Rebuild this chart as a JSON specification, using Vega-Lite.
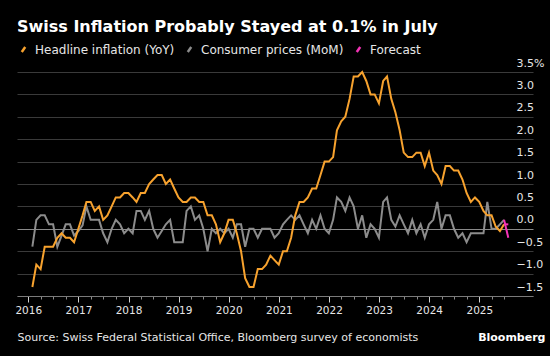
{
"$schema":"https://vega.github.io/schema/vega-lite/v6.json",
"autosize":{"type":"none"},
"width":516,"height":224,
"padding":{"left":17,"top":72,"right":17,"bottom":60},
"background":"#000000",
"config":{"view":{"stroke":null},"font":"DejaVu Sans"},
"title":{"text":"Swiss Inflation Probably Stayed at 0.1% in July","anchor":"start","frame":"group","font":"DejaVu Sans","fontSize":16,"fontWeight":"bold","color":"#ffffff","offset":8},
"data":{"values":[
{"d":"2016-01-31","k":"yoy","g":"yoy","v":-1.3},{"d":"2016-02-29","k":"yoy","g":"yoy","v":-0.8},{"d":"2016-03-31","k":"yoy","g":"yoy","v":-0.9},{"d":"2016-04-30","k":"yoy","g":"yoy","v":-0.4},{"d":"2016-05-31","k":"yoy","g":"yoy","v":-0.4},{"d":"2016-06-30","k":"yoy","g":"yoy","v":-0.4},{"d":"2016-07-31","k":"yoy","g":"yoy","v":-0.2},{"d":"2016-08-31","k":"yoy","g":"yoy","v":-0.1},{"d":"2016-09-30","k":"yoy","g":"yoy","v":-0.2},{"d":"2016-10-31","k":"yoy","g":"yoy","v":-0.2},{"d":"2016-11-30","k":"yoy","g":"yoy","v":-0.3},{"d":"2016-12-31","k":"yoy","g":"yoy","v":0.0},
{"d":"2017-01-31","k":"yoy","g":"yoy","v":0.3},{"d":"2017-02-28","k":"yoy","g":"yoy","v":0.6},{"d":"2017-03-31","k":"yoy","g":"yoy","v":0.6},{"d":"2017-04-30","k":"yoy","g":"yoy","v":0.4},{"d":"2017-05-31","k":"yoy","g":"yoy","v":0.5},{"d":"2017-06-30","k":"yoy","g":"yoy","v":0.2},{"d":"2017-07-31","k":"yoy","g":"yoy","v":0.3},{"d":"2017-08-31","k":"yoy","g":"yoy","v":0.5},{"d":"2017-09-30","k":"yoy","g":"yoy","v":0.7},{"d":"2017-10-31","k":"yoy","g":"yoy","v":0.7},{"d":"2017-11-30","k":"yoy","g":"yoy","v":0.8},{"d":"2017-12-31","k":"yoy","g":"yoy","v":0.8},
{"d":"2018-01-31","k":"yoy","g":"yoy","v":0.7},{"d":"2018-02-28","k":"yoy","g":"yoy","v":0.6},{"d":"2018-03-31","k":"yoy","g":"yoy","v":0.8},{"d":"2018-04-30","k":"yoy","g":"yoy","v":0.8},{"d":"2018-05-31","k":"yoy","g":"yoy","v":1.0},{"d":"2018-06-30","k":"yoy","g":"yoy","v":1.1},{"d":"2018-07-31","k":"yoy","g":"yoy","v":1.2},{"d":"2018-08-31","k":"yoy","g":"yoy","v":1.2},{"d":"2018-09-30","k":"yoy","g":"yoy","v":1.0},{"d":"2018-10-31","k":"yoy","g":"yoy","v":1.1},{"d":"2018-11-30","k":"yoy","g":"yoy","v":0.9},{"d":"2018-12-31","k":"yoy","g":"yoy","v":0.7},
{"d":"2019-01-31","k":"yoy","g":"yoy","v":0.6},{"d":"2019-02-28","k":"yoy","g":"yoy","v":0.6},{"d":"2019-03-31","k":"yoy","g":"yoy","v":0.7},{"d":"2019-04-30","k":"yoy","g":"yoy","v":0.7},{"d":"2019-05-31","k":"yoy","g":"yoy","v":0.6},{"d":"2019-06-30","k":"yoy","g":"yoy","v":0.6},{"d":"2019-07-31","k":"yoy","g":"yoy","v":0.3},{"d":"2019-08-31","k":"yoy","g":"yoy","v":0.3},{"d":"2019-09-30","k":"yoy","g":"yoy","v":0.1},{"d":"2019-10-31","k":"yoy","g":"yoy","v":-0.3},{"d":"2019-11-30","k":"yoy","g":"yoy","v":-0.1},{"d":"2019-12-31","k":"yoy","g":"yoy","v":0.2},
{"d":"2020-01-31","k":"yoy","g":"yoy","v":0.2},{"d":"2020-02-29","k":"yoy","g":"yoy","v":-0.1},{"d":"2020-03-31","k":"yoy","g":"yoy","v":-0.5},{"d":"2020-04-30","k":"yoy","g":"yoy","v":-1.1},{"d":"2020-05-31","k":"yoy","g":"yoy","v":-1.3},{"d":"2020-06-30","k":"yoy","g":"yoy","v":-1.3},{"d":"2020-07-31","k":"yoy","g":"yoy","v":-0.9},{"d":"2020-08-31","k":"yoy","g":"yoy","v":-0.9},{"d":"2020-09-30","k":"yoy","g":"yoy","v":-0.8},{"d":"2020-10-31","k":"yoy","g":"yoy","v":-0.6},{"d":"2020-11-30","k":"yoy","g":"yoy","v":-0.7},{"d":"2020-12-31","k":"yoy","g":"yoy","v":-0.8},
{"d":"2021-01-31","k":"yoy","g":"yoy","v":-0.5},{"d":"2021-02-28","k":"yoy","g":"yoy","v":-0.5},{"d":"2021-03-31","k":"yoy","g":"yoy","v":-0.2},{"d":"2021-04-30","k":"yoy","g":"yoy","v":0.3},{"d":"2021-05-31","k":"yoy","g":"yoy","v":0.6},{"d":"2021-06-30","k":"yoy","g":"yoy","v":0.6},{"d":"2021-07-31","k":"yoy","g":"yoy","v":0.7},{"d":"2021-08-31","k":"yoy","g":"yoy","v":0.9},{"d":"2021-09-30","k":"yoy","g":"yoy","v":0.9},{"d":"2021-10-31","k":"yoy","g":"yoy","v":1.2},{"d":"2021-11-30","k":"yoy","g":"yoy","v":1.5},{"d":"2021-12-31","k":"yoy","g":"yoy","v":1.5},
{"d":"2022-01-31","k":"yoy","g":"yoy","v":1.6},{"d":"2022-02-28","k":"yoy","g":"yoy","v":2.2},{"d":"2022-03-31","k":"yoy","g":"yoy","v":2.4},{"d":"2022-04-30","k":"yoy","g":"yoy","v":2.5},{"d":"2022-05-31","k":"yoy","g":"yoy","v":2.9},{"d":"2022-06-30","k":"yoy","g":"yoy","v":3.4},{"d":"2022-07-31","k":"yoy","g":"yoy","v":3.4},{"d":"2022-08-31","k":"yoy","g":"yoy","v":3.5},{"d":"2022-09-30","k":"yoy","g":"yoy","v":3.3},{"d":"2022-10-31","k":"yoy","g":"yoy","v":3.0},{"d":"2022-11-30","k":"yoy","g":"yoy","v":3.0},{"d":"2022-12-31","k":"yoy","g":"yoy","v":2.8},
{"d":"2023-01-31","k":"yoy","g":"yoy","v":3.3},{"d":"2023-02-28","k":"yoy","g":"yoy","v":3.4},{"d":"2023-03-31","k":"yoy","g":"yoy","v":2.9},{"d":"2023-04-30","k":"yoy","g":"yoy","v":2.6},{"d":"2023-05-31","k":"yoy","g":"yoy","v":2.2},{"d":"2023-06-30","k":"yoy","g":"yoy","v":1.7},{"d":"2023-07-31","k":"yoy","g":"yoy","v":1.6},{"d":"2023-08-31","k":"yoy","g":"yoy","v":1.6},{"d":"2023-09-30","k":"yoy","g":"yoy","v":1.7},{"d":"2023-10-31","k":"yoy","g":"yoy","v":1.7},{"d":"2023-11-30","k":"yoy","g":"yoy","v":1.4},{"d":"2023-12-31","k":"yoy","g":"yoy","v":1.7},
{"d":"2024-01-31","k":"yoy","g":"yoy","v":1.3},{"d":"2024-02-29","k":"yoy","g":"yoy","v":1.2},{"d":"2024-03-31","k":"yoy","g":"yoy","v":1.0},{"d":"2024-04-30","k":"yoy","g":"yoy","v":1.4},{"d":"2024-05-31","k":"yoy","g":"yoy","v":1.4},{"d":"2024-06-30","k":"yoy","g":"yoy","v":1.3},{"d":"2024-07-31","k":"yoy","g":"yoy","v":1.3},{"d":"2024-08-31","k":"yoy","g":"yoy","v":1.1},{"d":"2024-09-30","k":"yoy","g":"yoy","v":0.8},{"d":"2024-10-31","k":"yoy","g":"yoy","v":0.6},{"d":"2024-11-30","k":"yoy","g":"yoy","v":0.7},{"d":"2024-12-31","k":"yoy","g":"yoy","v":0.6},
{"d":"2025-01-31","k":"yoy","g":"yoy","v":0.4},{"d":"2025-02-28","k":"yoy","g":"yoy","v":0.3},{"d":"2025-03-31","k":"yoy","g":"yoy","v":0.3},{"d":"2025-04-30","k":"yoy","g":"yoy","v":0.05},{"d":"2025-05-31","k":"yoy","g":"yoy","v":-0.05},{"d":"2025-06-30","k":"yoy","g":"yoy","v":0.1},
{"d":"2016-01-31","k":"mom","g":"mom","v":-0.4},{"d":"2016-02-29","k":"mom","g":"mom","v":0.2},{"d":"2016-03-31","k":"mom","g":"mom","v":0.3},{"d":"2016-04-30","k":"mom","g":"mom","v":0.3},{"d":"2016-05-31","k":"mom","g":"mom","v":0.1},{"d":"2016-06-30","k":"mom","g":"mom","v":0.1},{"d":"2016-07-31","k":"mom","g":"mom","v":-0.4},{"d":"2016-08-31","k":"mom","g":"mom","v":-0.15},{"d":"2016-09-30","k":"mom","g":"mom","v":0.1},{"d":"2016-10-31","k":"mom","g":"mom","v":0.1},{"d":"2016-11-30","k":"mom","g":"mom","v":-0.15},{"d":"2016-12-31","k":"mom","g":"mom","v":-0.05},
{"d":"2017-01-31","k":"mom","g":"mom","v":0.08},{"d":"2017-02-28","k":"mom","g":"mom","v":0.5},{"d":"2017-03-31","k":"mom","g":"mom","v":0.2},{"d":"2017-04-30","k":"mom","g":"mom","v":0.2},{"d":"2017-05-31","k":"mom","g":"mom","v":0.2},{"d":"2017-06-30","k":"mom","g":"mom","v":-0.1},{"d":"2017-07-31","k":"mom","g":"mom","v":-0.3},{"d":"2017-08-31","k":"mom","g":"mom","v":0.0},{"d":"2017-09-30","k":"mom","g":"mom","v":0.2},{"d":"2017-10-31","k":"mom","g":"mom","v":0.1},{"d":"2017-11-30","k":"mom","g":"mom","v":-0.1},{"d":"2017-12-31","k":"mom","g":"mom","v":0.0},
{"d":"2018-01-31","k":"mom","g":"mom","v":-0.1},{"d":"2018-02-28","k":"mom","g":"mom","v":0.4},{"d":"2018-03-31","k":"mom","g":"mom","v":0.4},{"d":"2018-04-30","k":"mom","g":"mom","v":0.2},{"d":"2018-05-31","k":"mom","g":"mom","v":0.4},{"d":"2018-06-30","k":"mom","g":"mom","v":0.0},{"d":"2018-07-31","k":"mom","g":"mom","v":-0.2},{"d":"2018-08-31","k":"mom","g":"mom","v":-0.05},{"d":"2018-09-30","k":"mom","g":"mom","v":0.1},{"d":"2018-10-31","k":"mom","g":"mom","v":0.2},{"d":"2018-11-30","k":"mom","g":"mom","v":-0.3},{"d":"2018-12-31","k":"mom","g":"mom","v":-0.3},
{"d":"2019-01-31","k":"mom","g":"mom","v":-0.3},{"d":"2019-02-28","k":"mom","g":"mom","v":0.4},{"d":"2019-03-31","k":"mom","g":"mom","v":0.5},{"d":"2019-04-30","k":"mom","g":"mom","v":0.2},{"d":"2019-05-31","k":"mom","g":"mom","v":0.3},{"d":"2019-06-30","k":"mom","g":"mom","v":0.0},{"d":"2019-07-31","k":"mom","g":"mom","v":-0.5},{"d":"2019-08-31","k":"mom","g":"mom","v":0.0},{"d":"2019-09-30","k":"mom","g":"mom","v":-0.1},{"d":"2019-10-31","k":"mom","g":"mom","v":0.0},{"d":"2019-11-30","k":"mom","g":"mom","v":-0.1},{"d":"2019-12-31","k":"mom","g":"mom","v":0.0},
{"d":"2020-01-31","k":"mom","g":"mom","v":-0.2},{"d":"2020-02-29","k":"mom","g":"mom","v":0.1},{"d":"2020-03-31","k":"mom","g":"mom","v":0.1},{"d":"2020-04-30","k":"mom","g":"mom","v":-0.4},{"d":"2020-05-31","k":"mom","g":"mom","v":0.0},{"d":"2020-06-30","k":"mom","g":"mom","v":0.0},{"d":"2020-07-31","k":"mom","g":"mom","v":-0.2},{"d":"2020-08-31","k":"mom","g":"mom","v":0.0},{"d":"2020-09-30","k":"mom","g":"mom","v":0.0},{"d":"2020-10-31","k":"mom","g":"mom","v":0.0},{"d":"2020-11-30","k":"mom","g":"mom","v":-0.2},{"d":"2020-12-31","k":"mom","g":"mom","v":-0.1},
{"d":"2021-01-31","k":"mom","g":"mom","v":0.1},{"d":"2021-02-28","k":"mom","g":"mom","v":0.2},{"d":"2021-03-31","k":"mom","g":"mom","v":0.3},{"d":"2021-04-30","k":"mom","g":"mom","v":0.2},{"d":"2021-05-31","k":"mom","g":"mom","v":0.3},{"d":"2021-06-30","k":"mom","g":"mom","v":0.1},{"d":"2021-07-31","k":"mom","g":"mom","v":-0.1},{"d":"2021-08-31","k":"mom","g":"mom","v":0.2},{"d":"2021-09-30","k":"mom","g":"mom","v":0.0},{"d":"2021-10-31","k":"mom","g":"mom","v":0.3},{"d":"2021-11-30","k":"mom","g":"mom","v":0.0},{"d":"2021-12-31","k":"mom","g":"mom","v":-0.1},
{"d":"2022-01-31","k":"mom","g":"mom","v":0.2},{"d":"2022-02-28","k":"mom","g":"mom","v":0.7},{"d":"2022-03-31","k":"mom","g":"mom","v":0.6},{"d":"2022-04-30","k":"mom","g":"mom","v":0.4},{"d":"2022-05-31","k":"mom","g":"mom","v":0.7},{"d":"2022-06-30","k":"mom","g":"mom","v":0.5},{"d":"2022-07-31","k":"mom","g":"mom","v":0.0},{"d":"2022-08-31","k":"mom","g":"mom","v":0.3},{"d":"2022-09-30","k":"mom","g":"mom","v":-0.2},{"d":"2022-10-31","k":"mom","g":"mom","v":0.1},{"d":"2022-11-30","k":"mom","g":"mom","v":0.0},{"d":"2022-12-31","k":"mom","g":"mom","v":-0.2},
{"d":"2023-01-31","k":"mom","g":"mom","v":0.6},{"d":"2023-02-28","k":"mom","g":"mom","v":0.7},{"d":"2023-03-31","k":"mom","g":"mom","v":0.2},{"d":"2023-04-30","k":"mom","g":"mom","v":0.05},{"d":"2023-05-31","k":"mom","g":"mom","v":0.3},{"d":"2023-06-30","k":"mom","g":"mom","v":0.1},{"d":"2023-07-31","k":"mom","g":"mom","v":-0.1},{"d":"2023-08-31","k":"mom","g":"mom","v":0.2},{"d":"2023-09-30","k":"mom","g":"mom","v":-0.1},{"d":"2023-10-31","k":"mom","g":"mom","v":0.1},{"d":"2023-11-30","k":"mom","g":"mom","v":-0.2},{"d":"2023-12-31","k":"mom","g":"mom","v":0.1},
{"d":"2024-01-31","k":"mom","g":"mom","v":0.2},{"d":"2024-02-29","k":"mom","g":"mom","v":0.6},{"d":"2024-03-31","k":"mom","g":"mom","v":0.0},{"d":"2024-04-30","k":"mom","g":"mom","v":0.3},{"d":"2024-05-31","k":"mom","g":"mom","v":0.3},{"d":"2024-06-30","k":"mom","g":"mom","v":0.0},{"d":"2024-07-31","k":"mom","g":"mom","v":-0.2},{"d":"2024-08-31","k":"mom","g":"mom","v":-0.1},{"d":"2024-09-30","k":"mom","g":"mom","v":-0.3},{"d":"2024-10-31","k":"mom","g":"mom","v":-0.1},{"d":"2024-11-30","k":"mom","g":"mom","v":-0.1},{"d":"2024-12-31","k":"mom","g":"mom","v":-0.1},
{"d":"2025-01-31","k":"mom","g":"mom","v":-0.1},{"d":"2025-02-28","k":"mom","g":"mom","v":0.6},{"d":"2025-03-31","k":"mom","g":"mom","v":0.0},{"d":"2025-04-30","k":"mom","g":"mom","v":0.0},{"d":"2025-05-31","k":"mom","g":"mom","v":0.1},{"d":"2025-06-30","k":"mom","g":"mom","v":0.2},
{"d":"2025-06-30","k":"fc","g":"fyoy","v":0.1},{"d":"2025-07-31","k":"fc","g":"fyoy","v":0.1},
{"d":"2025-06-30","k":"fc","g":"fmom","v":0.2},{"d":"2025-07-31","k":"fc","g":"fmom","v":-0.2}
]},
"encoding":{
"x":{"field":"d","type":"temporal",
 "scale":{"type":"utc","domain":[{"year":2015,"month":10,"date":11,"utc":true},{"year":2026,"month":1,"date":27,"utc":true}]},
 "axis":{
  "values":[
   {"year":2016,"month":1,"date":1,"utc":true},{"year":2016,"month":4,"date":1,"utc":true},{"year":2016,"month":7,"date":1,"utc":true},{"year":2016,"month":10,"date":1,"utc":true},
   {"year":2017,"month":1,"date":1,"utc":true},{"year":2017,"month":4,"date":1,"utc":true},{"year":2017,"month":7,"date":1,"utc":true},{"year":2017,"month":10,"date":1,"utc":true},
   {"year":2018,"month":1,"date":1,"utc":true},{"year":2018,"month":4,"date":1,"utc":true},{"year":2018,"month":7,"date":1,"utc":true},{"year":2018,"month":10,"date":1,"utc":true},
   {"year":2019,"month":1,"date":1,"utc":true},{"year":2019,"month":4,"date":1,"utc":true},{"year":2019,"month":7,"date":1,"utc":true},{"year":2019,"month":10,"date":1,"utc":true},
   {"year":2020,"month":1,"date":1,"utc":true},{"year":2020,"month":4,"date":1,"utc":true},{"year":2020,"month":7,"date":1,"utc":true},{"year":2020,"month":10,"date":1,"utc":true},
   {"year":2021,"month":1,"date":1,"utc":true},{"year":2021,"month":4,"date":1,"utc":true},{"year":2021,"month":7,"date":1,"utc":true},{"year":2021,"month":10,"date":1,"utc":true},
   {"year":2022,"month":1,"date":1,"utc":true},{"year":2022,"month":4,"date":1,"utc":true},{"year":2022,"month":7,"date":1,"utc":true},{"year":2022,"month":10,"date":1,"utc":true},
   {"year":2023,"month":1,"date":1,"utc":true},{"year":2023,"month":4,"date":1,"utc":true},{"year":2023,"month":7,"date":1,"utc":true},{"year":2023,"month":10,"date":1,"utc":true},
   {"year":2024,"month":1,"date":1,"utc":true},{"year":2024,"month":4,"date":1,"utc":true},{"year":2024,"month":7,"date":1,"utc":true},{"year":2024,"month":10,"date":1,"utc":true},
   {"year":2025,"month":1,"date":1,"utc":true},{"year":2025,"month":4,"date":1,"utc":true},{"year":2025,"month":7,"date":1,"utc":true}
  ],
  "labelExpr":"utcmonth(datum.value) === 0 ? utcFormat(datum.value, '%Y') : ''",
  "labelOverlap":false,"labelFlush":false,"labelBound":false,
  "labelFont":"DejaVu Sans","labelFontSize":10.5,"labelColor":"#e6e6e6","labelPadding":3,
  "grid":false,"domainColor":"#7a7a7a","domainWidth":1,
  "tickSize":{"condition":{"test":"utcmonth(datum.value) === 0","value":6},"value":3},
  "tickColor":{"condition":{"test":"utcmonth(datum.value) === 0","value":"#d0d0d0"},"value":"#8a8a8a"},
  "tickWidth":1,
  "title":"Source: Swiss Federal Statistical Office, Bloomberg survey of economists",
  "titleX":0,"titleY":44,"titleAlign":"left","titleAnchor":"start","titleBaseline":"alphabetic",
  "titleFont":"DejaVu Sans","titleFontSize":11,"titleFontWeight":"normal","titleColor":"#e6e6e6"
 }},
"y":{"field":"v","type":"quantitative",
 "scale":{"domain":[-1.5,3.5],"nice":false,"zero":false},
 "axis":{"orient":"right","values":[-1.5,-1,-0.5,0,0.5,1,1.5,2,2.5,3,3.5],
  "labelExpr":"datum.value === 3.5 ? '3.5%' : format(datum.value, '.1f')",
  "labelAlign":"left","labelBaseline":"alphabetic","labelOffset":-6,"labelPadding":-17,
  "labelFont":"DejaVu Sans","labelFontSize":11,"labelColor":"#e6e6e6",
  "labelOverlap":false,"labelFlush":false,"labelBound":false,
  "ticks":false,"tickSize":0,"domain":false,
  "grid":true,"gridWidth":1,
  "gridColor":{"condition":{"test":"datum.value === 0","value":"#8a8a8a"},"value":"#3a3a3a"},
  "title":"Bloomberg","titleAngle":0,"titleX":12,"titleY":268,"titleAlign":"right","titleBaseline":"alphabetic",
  "titleFont":"DejaVu Sans","titleFontSize":11,"titleFontWeight":"bold","titleColor":"#ffffff"
 }},
"color":{"field":"k","type":"nominal",
 "scale":{"domain":["yoy","mom","fc"],"range":["#f7a22e","#8c8c8c","#f433b6"]},
 "legend":{"orient":"none","legendX":0,"legendY":-29,"direction":"horizontal","title":null,
  "labelExpr":"datum.label === 'yoy' ? 'Headline inflation (YoY)' : datum.label === 'mom' ? 'Consumer prices (MoM)' : 'Forecast'",
  "symbolType":"M-0.35,0.5L0.35,-0.5","symbolSize":100,"symbolStrokeWidth":2.5,
  "labelFont":"DejaVu Sans","labelFontSize":12,"labelColor":"#e6e6e6","labelOffset":5,"columnPadding":7}},
"detail":{"field":"g"}
},
"layer":[
 {"transform":[{"filter":"datum.k === 'mom'"}],"mark":{"type":"line","strokeWidth":2}},
 {"transform":[{"filter":"datum.k === 'yoy'"}],"mark":{"type":"line","strokeWidth":2}},
 {"transform":[{"filter":"datum.k === 'fc'"}],"mark":{"type":"line","strokeWidth":2}}
]
}
